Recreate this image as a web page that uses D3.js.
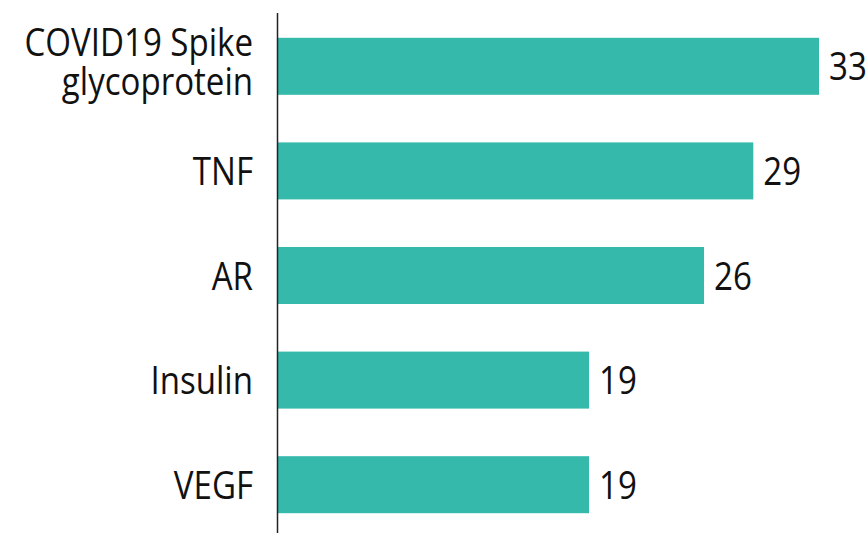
<!DOCTYPE html>
<html>
<head>
<meta charset="utf-8">
<script src="https://cdn.jsdelivr.net/npm/d3@7"></script>
<style>
  body { margin: 0; background: #fff; }
  text { font-family: "Open Sans", sans-serif; fill: #111; }
</style>
</head>
<body>
<div id="chart"></div>
<script>
var categories = [["COVID19 Spike", "glycoprotein"], ["TNF"], ["AR"], ["Insulin"], ["VEGF"]];
var values = [33, 29, 26, 19, 19];

var width = 867, height = 533;
var axisX = 277;

var svg = d3.select("#chart").append("svg")
  .attr("width", width)
  .attr("height", height);

var x = d3.scaleLinear().domain([0, 33]).range([axisX, 819]);
var y = d3.scaleBand()
  .domain(d3.range(values.length))
  .range([14, 537])
  .paddingInner(0.455)
  .paddingOuter(0.2275);

svg.selectAll("rect.bar")
  .data(values)
  .enter()
  .append("rect")
  .attr("class", "bar")
  .attr("x", x(0))
  .attr("y", function (d, i) { return y(i); })
  .attr("width", function (d) { return x(d) - x(0); })
  .attr("height", y.bandwidth())
  .attr("fill", "#35b9ab");

// vertical axis line
svg.append("line")
  .attr("x1", axisX + 0.5).attr("x2", axisX + 0.5)
  .attr("y1", 13).attr("y2", 533)
  .attr("stroke", "#222").attr("stroke-width", 1.5);

var sx = 0.87;
var fs = 38;

// value labels
svg.selectAll("text.val")
  .data(values)
  .enter()
  .append("text")
  .attr("class", "val")
  .attr("transform", function (d, i) {
    return "translate(" + (x(d) + 10) + "," + (y(i) + y.bandwidth() / 2 + 14) + ") scale(" + sx + ",1)";
  })
  .style("font-size", fs + "px")
  .text(function (d) { return d; });

// category labels
categories.forEach(function (lines, i) {
  var cy = y(i) + y.bandwidth() / 2;
  var lh = 39;
  var t = svg.append("text")
    .attr("transform", "translate(253," + (cy + 14 - (lines.length - 1) * (lh / 2 + 5)) + ") scale(" + sx + ",1)")
    .attr("text-anchor", "end")
    .style("font-size", fs + "px");
  lines.forEach(function (s, j) {
    t.append("tspan").attr("x", 0).attr("dy", j === 0 ? 0 : lh).text(s);
  });
});
</script>
</body>
</html>
